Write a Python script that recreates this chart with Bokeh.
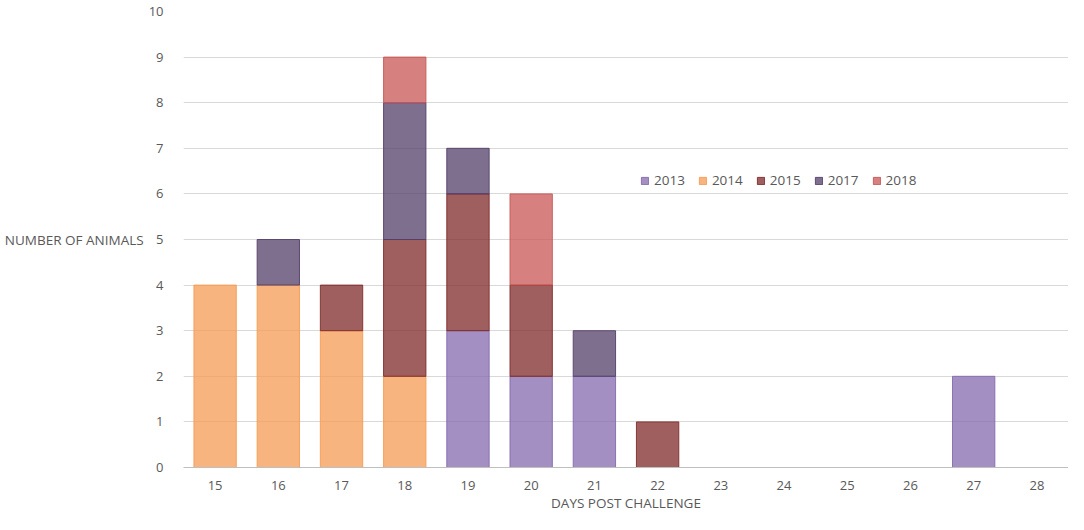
import numpy as np
from bokeh.plotting import figure
from bokeh.models import Legend, ColumnDataSource
from bokeh.embed import file_html
from bokeh.resources import INLINE

days = [str(d) for d in range(15, 29)]
years = ["2013", "2014", "2015", "2017", "2018"]
y2013 = [0, 0, 0, 0, 3, 2, 2, 0, 0, 0, 0, 0, 2, 0]
y2014 = [4, 4, 3, 2, 0, 0, 0, 0, 0, 0, 0, 0, 0, 0]
y2015 = [0, 0, 1, 3, 3, 2, 0, 1, 0, 0, 0, 0, 0, 0]
y2017 = [0, 1, 0, 3, 1, 0, 1, 0, 0, 0, 0, 0, 0, 0]
y2018 = [0, 0, 0, 1, 0, 2, 0, 0, 0, 0, 0, 0, 0, 0]
series = [y2013, y2014, y2015, y2017, y2018]
colors = ["#8469ad", "#f69b53", "#802a2a", "#533f68", "#c85754"]

FONT = "Open Sans"
p = figure(x_range=days, y_range=(0, 10), width=1068, height=514,
           output_backend="svg", toolbar_location=None,
           min_border_left=183, min_border_right=0, min_border_top=11, min_border_bottom=40)
p.outline_line_color = None
p.xgrid.grid_line_color = None
p.ygrid.grid_line_color = "#d9d9d9"
p.ygrid.grid_line_width = 1

base = np.zeros(len(days))
renderers = []
for yr, vals, col in zip(years, series, colors):
    v = np.array(vals, dtype=float)
    mask = v > 0
    src = ColumnDataSource(dict(x=[d for d, m in zip(days, mask) if m],
                                bottom=base[mask], top=(base + v)[mask]))
    r = p.vbar(x="x", bottom="bottom", top="top", width=0.67, source=src,
               fill_color=col, fill_alpha=0.75, line_color=col, line_alpha=0.9,
               line_width=1)
    renderers.append(r)
    base = base + v

p.yaxis.ticker = list(range(0, 11))
p.yaxis.axis_line_color = None
p.yaxis.major_tick_line_color = None
p.yaxis.minor_tick_line_color = None
p.xaxis.major_tick_line_color = None
p.xaxis.axis_line_color = "#bfbfbf"
p.xaxis.axis_line_width = 1
for ax in (p.xaxis, p.yaxis):
    ax.major_label_text_font = FONT
    ax.major_label_text_font_size = "13px"
    ax.major_label_text_color = "#595959"
    ax.axis_label_text_font = FONT
    ax.axis_label_text_font_size = "13.5px"
    ax.axis_label_text_color = "#595959"
    ax.axis_label_text_font_style = "normal"
p.xaxis.major_label_standoff = 7
p.yaxis.major_label_standoff = 14
p.xaxis.axis_label = "DAYS POST CHALLENGE"
p.xaxis.axis_label_standoff = 1
p.yaxis.axis_label = "NUMBER OF ANIMALS"
p.yaxis.axis_label_orientation = "horizontal"
p.yaxis.axis_label_standoff = 2

legend = Legend(items=[(y, [r]) for y, r in zip(years, renderers)],
                orientation="horizontal", location=(457, 278),
                background_fill_alpha=0, border_line_color=None,
                label_text_font=FONT, label_text_font_size="13.5px",
                label_text_color="#595959", glyph_width=9, glyph_height=9,
                spacing=13, label_standoff=5, padding=4)
p.add_layout(legend)

open("out.html", "w").write(file_html(p, INLINE))
